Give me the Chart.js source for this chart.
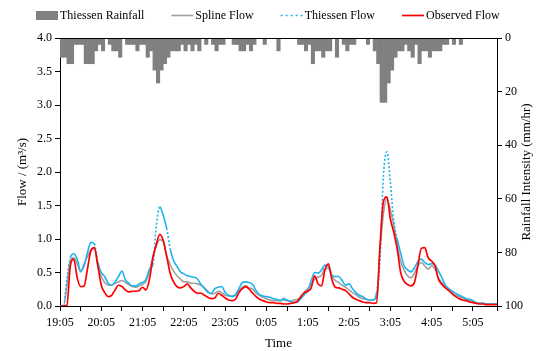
<!DOCTYPE html>
<html>
<head>
<meta charset="utf-8">
<script src="https://cdn.jsdelivr.net/npm/chart.js@4.4.1/dist/chart.umd.min.js"></script>
<style>
html,body{margin:0;padding:0;background:#fff}
canvas{display:block}
</style>
</head>
<body>
<canvas id="chart" width="542" height="351"></canvas>
<script>
// time axis: 19:05 start, 5-min steps, hourly labels
const stepMin = 5;
const timeLabels = ['19:05','20:05','21:05','22:05','23:05','0:05','1:05','2:05','3:05','4:05','5:05'];

// rainfall intensity per 5-min bin (mm/hr)
const rainfall = [
  7.2,7.2,9.6,9.6,2.4,2.4,2.4,9.6,9.6,9.6,
  4.8,2.4,4.8,0,2.4,4.8,4.8,7.2,0,2.4,
  2.4,2.4,4.8,2.4,2.4,7.2,4.8,12,16.8,12,
  9.6,7.2,4.8,4.8,4.8,2.4,4.8,2.4,4.8,2.4,
  4.8,0,2.4,0,2.4,4.8,2.4,2.4,0,0,
  2.4,2.4,4.8,4.8,2.4,4.8,2.4,0,0,2.4,
  0,0,0,4.8,0,0,0,0,0,2.4,
  2.4,4.8,2.4,9.6,4.8,4.8,7.2,4.8,4.8,0,
  7.2,0,2.4,4.8,2.4,2.4,0,0,0,2.4,
  0,4.8,9.6,24,24,16.8,12,7.2,4.8,4.8,
  2.4,4.8,7.2,2.4,9.6,4.8,4.8,7.2,4.8,4.8,
  4.8,2.4,2.4,0,2.4,0,2.4,0,0,0,
  0,0,0,0,0,0,0
];

// flows (m3/s) every 5 min from 19:05
const splineFlow = [
  0,0,0.3,0.68,0.72,0.63,0.51,0.63,0.74,0.83,
  0.85,0.6,0.44,0.35,0.31,0.31,0.34,0.36,0.38,0.35,
  0.32,0.29,0.28,0.3,0.32,0.37,0.52,0.74,0.9,0.99,
  0.96,0.75,0.62,0.52,0.45,0.4,0.36,0.36,0.34,0.34,
  0.33,0.31,0.27,0.22,0.18,0.19,0.22,0.2,0.16,0.15,
  0.15,0.16,0.23,0.28,0.3,0.27,0.25,0.19,0.16,0.13,
  0.11,0.09,0.08,0.08,0.08,0.09,0.08,0.07,0.09,0.1,
  0.12,0.2,0.26,0.32,0.4,0.43,0.46,0.56,0.56,0.45,
  0.38,0.35,0.31,0.28,0.24,0.2,0.17,0.13,0.11,0.1,
  0.09,0.09,0.12,0.84,1.38,1.6,1.44,1.2,0.92,0.66,
  0.54,0.45,0.42,0.49,0.6,0.65,0.6,0.55,0.6,0.55,
  0.42,0.35,0.29,0.25,0.2,0.16,0.14,0.12,0.1,0.08,
  0.07,0.05,0.04,0.04,0.03,0.03,0.03,0.03
];
const thiessenFlow = [
  0,0,0.4,0.72,0.78,0.7,0.52,0.6,0.8,0.95,
  0.93,0.65,0.5,0.44,0.34,0.31,0.36,0.44,0.52,0.39,
  0.34,0.3,0.3,0.33,0.35,0.4,0.55,0.62,1.2,1.48,
  1.35,1.16,0.86,0.68,0.59,0.51,0.48,0.45,0.44,0.43,
  0.4,0.32,0.26,0.2,0.19,0.26,0.28,0.29,0.2,0.16,
  0.14,0.17,0.26,0.35,0.36,0.35,0.32,0.23,0.17,0.15,
  0.14,0.13,0.11,0.1,0.08,0.11,0.09,0.07,0.05,0.06,
  0.11,0.17,0.23,0.38,0.5,0.49,0.54,0.61,0.59,0.46,
  0.44,0.44,0.38,0.31,0.33,0.26,0.2,0.16,0.14,0.1,
  0.09,0.09,0.2,0.7,1.95,2.3,1.85,1.27,1.0,0.79,
  0.6,0.54,0.51,0.57,0.66,0.7,0.65,0.62,0.63,0.61,
  0.52,0.42,0.31,0.26,0.22,0.19,0.16,0.14,0.11,0.1,
  0.08,0.05,0.04,0.04,0.03,0.03,0.03,0.03
];
const observedFlow = [
  0,0,0.01,0.6,0.7,0.42,0.29,0.3,0.56,0.83,
  0.87,0.6,0.31,0.2,0.14,0.16,0.24,0.31,0.29,0.24,
  0.21,0.22,0.22,0.23,0.28,0.24,0.4,0.72,0.92,1.07,
  0.98,0.74,0.49,0.36,0.29,0.27,0.29,0.33,0.27,0.22,
  0.19,0.19,0.16,0.13,0.11,0.12,0.19,0.16,0.12,0.09,
  0.08,0.1,0.2,0.26,0.29,0.25,0.19,0.14,0.1,0.08,
  0.06,0.05,0.05,0.04,0.04,0.03,0.03,0.04,0.05,0.07,
  0.14,0.2,0.22,0.27,0.45,0.33,0.3,0.54,0.63,0.4,
  0.28,0.27,0.25,0.23,0.18,0.13,0.1,0.08,0.06,0.05,
  0.05,0.04,0.05,0.9,1.56,1.63,1.3,1.1,0.85,0.5,
  0.37,0.32,0.3,0.35,0.6,0.86,0.87,0.72,0.67,0.6,
  0.4,0.32,0.27,0.23,0.18,0.14,0.11,0.09,0.08,0.06,
  0.05,0.04,0.03,0.03,0.02,0.02,0.02,0.02
];

const leftTitle = 'Flow / (m\u00b3/s)';
const rightTitle = 'Rainfall Intensity (mm/hr)';

const FONT = '"Liberation Serif", "Times New Roman", serif';
Chart.defaults.font.family = FONT;
Chart.defaults.font.size = 12;
Chart.defaults.color = '#000';

const toPts = arr => arr.map((v,i)=>({x:i*stepMin, y:v}));
const rainPts = rainfall.map((v,i)=>({x:i*stepMin + stepMin/2, y:v}));

// draws top frame line, legend and the right-hand title
const extras = {
  id:'extras',
  afterDraw(chart){
    const ctx = chart.ctx, a = chart.chartArea;
    ctx.save();
    ctx.strokeStyle = '#000';
    ctx.lineWidth = 1;
    ctx.beginPath();
    ctx.moveTo(a.left, Math.round(a.top)+0.5);
    ctx.lineTo(a.right, Math.round(a.top)+0.5);
    ctx.stroke();

    ctx.font = '13px ' + FONT;
    ctx.fillStyle = '#000';
    ctx.textAlign = 'center';
    ctx.textBaseline = 'middle';
    ctx.translate(527, (a.top + a.bottom)/2);
    ctx.rotate(-Math.PI/2);
    ctx.fillText(rightTitle, 0, 0);
    ctx.restore();

    ctx.save();
    ctx.font = '12px ' + FONT;
    ctx.textBaseline = 'middle';
    ctx.textAlign = 'left';
    let x = 36;
    const y = 15;
    chart.data.datasets.forEach(ds=>{
      if(ds.type === 'bar'){
        ctx.fillStyle = ds.backgroundColor;
        ctx.fillRect(x, y-4, 22, 9);
      } else {
        ctx.strokeStyle = ds.borderColor;
        ctx.lineWidth = ds.borderWidth;
        ctx.setLineDash(ds.legendDash || []);
        ctx.beginPath();
        ctx.moveTo(x, y+0.5);
        ctx.lineTo(x+22, y+0.5);
        ctx.stroke();
        ctx.setLineDash([]);
      }
      ctx.fillStyle = '#000';
      ctx.fillText(ds.label, x+24, y+1);
      x += 24 + ctx.measureText(ds.label).width + 27;
    });
    ctx.restore();
  }
};

new Chart(document.getElementById('chart'), {
  type:'bar',
  data:{
    datasets:[
      {
        type:'bar',
        label:'Thiessen Rainfall',
        data:rainPts,
        yAxisID:'y1',
        backgroundColor:'#808080',
        borderWidth:0,
        barPercentage:1,
        categoryPercentage:1,
        order:4
      },
      {
        type:'line',
        label:'Spline Flow',
        data:toPts(splineFlow),
        yAxisID:'y',
        borderColor:'#a0a0a0',
        borderWidth:1.6,
        pointRadius:0,
        cubicInterpolationMode:'monotone',
        order:3
      },
      {
        type:'line',
        label:'Thiessen Flow',
        data:toPts(thiessenFlow),
        yAxisID:'y',
        borderColor:'#1cb4ee',
        borderWidth:1.6,
        pointRadius:0,
        cubicInterpolationMode:'monotone',
        legendDash:[2,3],
        segment:{
          borderDash: c => Math.abs(c.p1.parsed.y - c.p0.parsed.y) > 0.25 ? [2,2] : []
        },
        order:2
      },
      {
        type:'line',
        label:'Observed Flow',
        data:toPts(observedFlow),
        yAxisID:'y',
        borderColor:'#ff0000',
        borderWidth:1.7,
        pointRadius:0,
        cubicInterpolationMode:'monotone',
        order:1
      }
    ]
  },
  options:{
    responsive:false,
    animation:false,
    devicePixelRatio:1,
    layout:{padding:{top:38, left:0, right:0, bottom:0}},
    plugins:{legend:{display:false}, tooltip:{enabled:false}},
    scales:{
      x:{
        type:'linear',
        min:0,
        max:635,
        offset:false,
        afterFit: s => { s.height = 45; },
        grid:{drawOnChartArea:false, offset:false, color:'#000', tickLength:5},
        border:{color:'#000'},
        ticks:{
          stepSize:30,
          autoSkip:false,
          maxRotation:0,
          padding:5,
          callback: v => v % 60 === 0 ? timeLabels[v/60] : ''
        },
        title:{display:true, text:'Time', font:{size:13}, padding:{top:0, bottom:0}}
      },
      y:{
        position:'left',
        min:0,
        max:4,
        afterFit: s => { s.width = 60; },
        grid:{drawOnChartArea:false, color:'#000', tickLength:5},
        border:{color:'#000'},
        ticks:{stepSize:0.5, padding:3, callback: v => v.toFixed(1)},
        title:{display:true, text:leftTitle, font:{size:13}, padding:{top:15, bottom:0}}
      },
      y1:{
        position:'right',
        min:0,
        max:100,
        reverse:true,
        afterFit: s => { s.width = 45; },
        grid:{drawOnChartArea:false, color:'#000', tickLength:5},
        border:{color:'#000'},
        ticks:{stepSize:20, padding:3}
      }
    }
  },
  plugins:[extras]
});
</script>
</body>
</html>
